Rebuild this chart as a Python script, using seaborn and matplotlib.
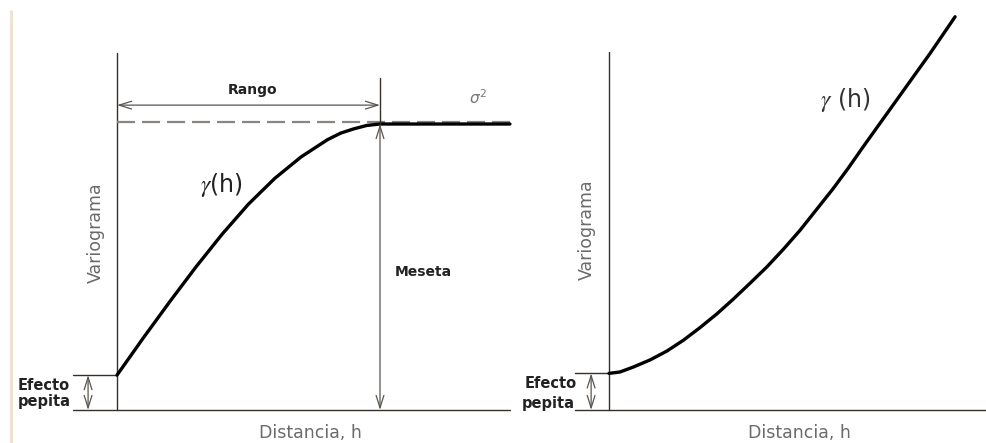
import numpy as np
import matplotlib
matplotlib.use('Agg')
import matplotlib.pyplot as plt
import seaborn as sns

# modelo esferico (panel izquierdo)
h_esf = [0.0, 0.1, 0.2, 0.3, 0.4, 0.5, 0.6, 0.7, 0.8, 0.85, 0.9, 0.95, 1.0, 1.494]
g_esf = [0.122, 0.252, 0.378, 0.500, 0.615, 0.720, 0.810, 0.885, 0.945, 0.968,
         0.983, 0.995, 1.0, 1.0]

# modelo sin meseta (panel derecho)
h_pot = [0.0, 0.042, 0.092, 0.156, 0.220, 0.283, 0.346, 0.410, 0.473, 0.536,
         0.600, 0.663, 0.726, 0.790, 0.853, 0.910, 0.967, 1.030, 1.094, 1.157,
         1.221, 1.316]
g_pot = [0.128, 0.133, 0.150, 0.175, 0.206, 0.244, 0.288, 0.336, 0.388, 0.443,
         0.500, 0.562, 0.628, 0.702, 0.775, 0.846, 0.921, 1.002, 1.084, 1.165,
         1.247, 1.375]

sns.set_style('white')
plt.rcParams['font.family'] = ['DejaVu Sans']
plt.rcParams['mathtext.fontset'] = 'stix'
plt.rcParams['lines.scale_dashes'] = False

fig = plt.figure(figsize=(9.86, 4.43), dpi=100)
ax1 = fig.add_axes([0, 0, 520/986, 1])
ax2 = fig.add_axes([520/986, 0, 466/986, 1])

ylim = (-0.1154, 1.4336)
ax1.set_xlim(-0.4449, 1.5323)
ax2.set_xlim(-0.3384, 1.4335)
for ax in (ax1, ax2):
    ax.set_ylim(*ylim)
    ax.axis('off')

eje = '#36302a'
gris = '#6a6a6a'
flecha = dict(arrowstyle='<->,head_length=0.9,head_width=0.28', color='#5a5550',
              lw=0.9, shrinkA=0, shrinkB=0, mutation_scale=10)

# linea beige del borde
ax1.plot([-0.403, -0.403], [1.399, ylim[0]], color='#efe4d2', lw=2.2, solid_capstyle='butt')

# ---- panel izquierdo ----
pep = g_esf[0]
sill = g_esf[-1]
rango = h_esf[-2]
ax1.plot([0, 0], [0, 1.248], color=eje, lw=1.0)
ax1.plot([-0.167, h_esf[-1]], [0, 0], color=eje, lw=1.0)
ax1.plot([-0.167, 0], [pep, pep], color=eje, lw=1.0)
ax1.plot([0, h_esf[-1]], [sill + 0.006, sill + 0.006], color='#8a8580', lw=1.6,
         linestyle=(0, (13, 5)))
sns.lineplot(x=h_esf, y=g_esf, ax=ax1, color='black', lw=2.4, estimator=None, sort=False,
             solid_joinstyle='round')
ax1.plot([rango, rango], [sill, 1.161], color=eje, lw=1.0)
ax1.annotate('', xy=(0, 1.066), xytext=(rango, 1.066), arrowprops=flecha)
ax1.annotate('', xy=(rango, sill), xytext=(rango, 0), arrowprops=flecha)
ax1.annotate('', xy=(-0.110, pep), xytext=(-0.110, 0), arrowprops=flecha)

ax1.text(0.517, 1.119, 'Rango', ha='center', va='center', fontsize=10, fontweight='bold', color='#222222')
ax1.text(1.373, 1.091, r'$\sigma^2$', ha='center', va='center', fontsize=11, color='#777777',
         math_fontfamily='dejavusans')
ax1.text(0.399, 0.787, r'$\gamma$(h)', ha='center', va='center', fontsize=17, color='#222222')
ax1.text(1.163, 0.483, 'Meseta', ha='center', va='center', fontsize=10, fontweight='bold', color='#222222')
ax1.text(-0.080, 0.619, 'Variograma', ha='center', va='center', rotation=90, fontsize=12.5, color=gris)
ax1.text(0.734, -0.080, 'Distancia, h', ha='center', va='center', fontsize=12.5, color=gris)
ax1.text(-0.376, 0.087, 'Efecto', ha='left', va='center', fontsize=10.5, fontweight='bold', color='#222222')
ax1.text(-0.376, 0.028, 'pepita', ha='left', va='center', fontsize=10.5, fontweight='bold', color='#222222')

# ---- panel derecho ----
pep2 = g_pot[0]
ax2.plot([0, 0], [0, 1.252], color=eje, lw=1.0)
ax2.plot([-0.129, 1.4335], [0, 0], color=eje, lw=1.0)
ax2.plot([-0.129, 0], [pep2, pep2], color=eje, lw=1.0)
sns.lineplot(x=h_pot, y=g_pot, ax=ax2, color='black', lw=2.4, estimator=None, sort=False,
             solid_joinstyle='round')
ax2.annotate('', xy=(-0.068, pep2), xytext=(-0.068, 0), arrowprops=flecha)

ax2.text(0.897, 1.084, r'$\gamma$ (h)', ha='center', va='center', fontsize=17, color='#333333')
ax2.text(-0.084, 0.629, 'Variograma', ha='center', va='center', rotation=90, fontsize=12.5, color=gris)
ax2.text(0.726, -0.080, 'Distancia, h', ha='center', va='center', fontsize=12.5, color=gris)
ax2.text(-0.122, 0.094, 'Efecto', ha='right', va='center', fontsize=10.5, fontweight='bold', color='#222222')
ax2.text(-0.129, 0.024, 'pepita', ha='right', va='center', fontsize=10.5, fontweight='bold', color='#222222')

fig.savefig('out.png', dpi=100, facecolor='white')
